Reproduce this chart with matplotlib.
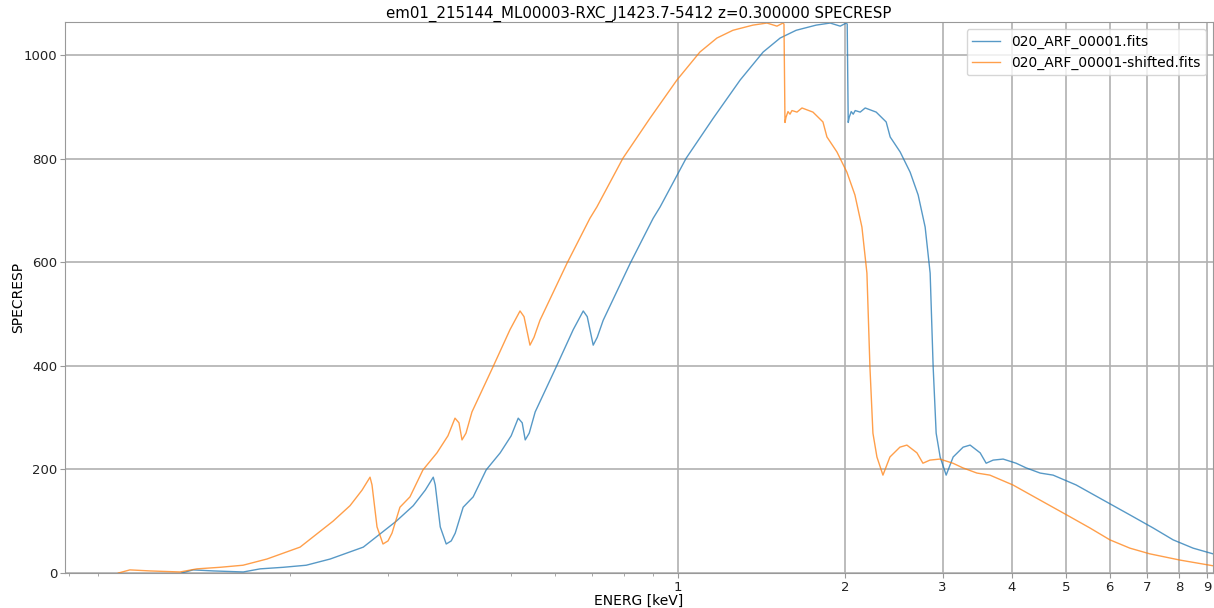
import numpy as np
import matplotlib.pyplot as plt
from matplotlib.ticker import FixedLocator, FixedFormatter, LogLocator, NullFormatter

# rest-frame effective area curve (keV, cm^2)
energ = [0.0981, 0.1029, 0.1119, 0.1267, 0.1359, 0.1495, 0.1645, 0.1817, 0.2085, 0.2390,
         0.2565, 0.2696, 0.2787, 0.2810, 0.2869, 0.2941, 0.3003, 0.3053, 0.3155, 0.3289,
         0.3471, 0.3679, 0.3851, 0.3965, 0.4031, 0.4082, 0.4150, 0.4254, 0.4642, 0.4982,
         0.5193, 0.5280, 0.5412, 0.5503, 0.5641, 0.6310, 0.6941, 0.7145, 0.7960, 0.8903,
         0.9959, 1.0955, 1.1755, 1.2563, 1.3653, 1.4468, 1.5083, 1.5463, 1.5528, 1.5593,
         1.5658, 1.5788, 1.5919, 1.6052, 1.6388, 1.6732, 1.7512, 1.8253, 1.8559, 1.9345,
         2.0160, 2.0843, 2.1457, 2.1907, 2.2182, 2.2460, 2.2836, 2.3412, 2.4101, 2.5119,
         2.5859, 2.6960, 2.7639, 2.8453, 2.9657, 3.1297, 3.2623, 3.4576, 3.6488, 4.0151,
         4.4898, 5.0221, 5.5255, 6.0043, 6.5229, 7.0858, 8.0258, 9.2045, 9.876]
specresp = [0, 6, 4, 2, 8, 11, 15, 27, 50, 100,
            130, 160, 185, 170, 89, 56, 62, 77, 127, 147,
            199, 232, 265, 299, 290, 257, 270, 311, 398, 470,
            506, 495, 440, 455, 488, 598, 685, 707, 801, 878,
            952, 1006, 1033, 1048, 1058, 1062, 1056, 1062, 1060, 870,
            880, 891, 886, 893, 890, 898, 890, 871, 842, 813,
            774, 730, 668, 579, 398, 270, 224, 189, 224, 243,
            247, 232, 212, 218, 220, 212, 203, 193, 189, 170,
            141, 112, 87, 64, 48, 37, 25, 14, 11]
z = 0.3

labels = ['020_ARF_00001.fits', '020_ARF_00001-shifted.fits']
xticks = [1, 2, 3, 4, 5, 6, 7, 8, 9]
yticks = [0, 200, 400, 600, 800, 1000]

energ = np.array(energ)
specresp = np.array(specresp)

fig = plt.figure(figsize=(12.14, 6.08), dpi=100)
ax = fig.add_axes([65 / 1214, 35 / 608, 1148 / 1214, 551 / 608])

ax.plot(energ * (1 + z), specresp, color='tab:blue', lw=1.0, alpha=0.75, label=labels[0])
ax.plot(energ, specresp, color='tab:orange', lw=1.0, alpha=0.75, label=labels[1])

ax.set_xscale('log')
ax.set_xlim(0.0786, 9.21)
ax.set_ylim(0, specresp.max() + 2)

ax.xaxis.set_major_locator(FixedLocator(xticks))
ax.xaxis.set_major_formatter(FixedFormatter([str(t) for t in xticks]))
ax.xaxis.set_minor_locator(LogLocator(base=10, subs=np.arange(2, 10)))
ax.xaxis.set_minor_formatter(NullFormatter())
ax.set_yticks(yticks)

ax.grid(True, which='major', color='#b0b0b0', lw=1.2)
for s in ax.spines.values():
    s.set_color('#999999')
ax.tick_params(colors='#999999', labelcolor='#222222', labelsize=9.5, pad=2)
ax.tick_params(which='minor', colors='#999999')

ax.set_xlabel('ENERG [keV]', fontsize=10, labelpad=0)
ax.set_ylabel('SPECRESP', fontsize=10, labelpad=-1)
ax.set_title('em01_215144_ML00003-RXC_J1423.7-5412 z=0.300000 SPECRESP', fontsize=10.8, pad=3)
ax.legend(loc='upper right', fontsize=10)

fig.savefig('out.png', dpi=100)
